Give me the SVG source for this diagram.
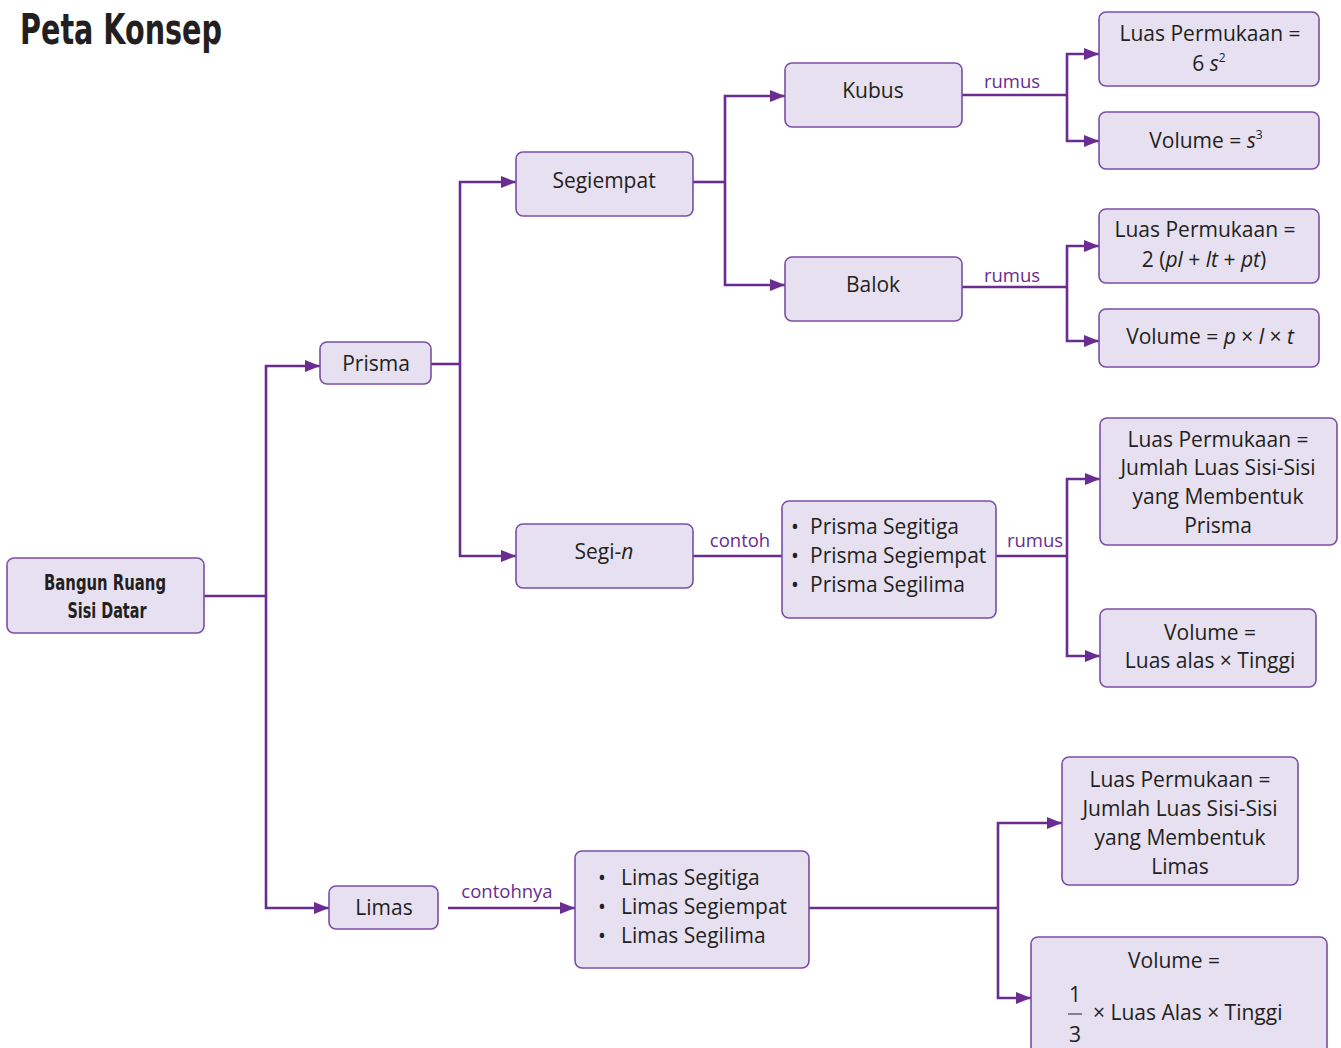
<svg xmlns="http://www.w3.org/2000/svg" width="1341" height="1048" viewBox="0 0 1341 1048">
<style>
.box{fill:#e6e0f0;stroke:#7b4ea6;stroke-width:1.6}
.t{font-family:"Open Sans","Noto Sans","Liberation Sans",sans-serif;font-size:21px;fill:#231f20;text-anchor:middle}
.tl{font-family:"Open Sans","Noto Sans","Liberation Sans",sans-serif;font-size:21px;fill:#231f20}
.lbl{font-family:"Open Sans","Noto Sans","Liberation Sans",sans-serif;font-size:18.5px;fill:#6a2c91;text-anchor:middle}
.b{font-family:"DejaVu Sans Condensed","Liberation Sans Narrow",sans-serif;font-weight:bold;fill:#231f20}
.c{fill:none;stroke:#6a2c91;stroke-width:2.6}
.i{font-style:italic}
</style>
<defs>
<marker id="ah" viewBox="0 0 15 12" refX="15" refY="6" markerWidth="15" markerHeight="12" markerUnits="userSpaceOnUse" orient="auto">
<path d="M0,0 L15,6 L0,12 Z" fill="#6a2c91"/>
</marker>
</defs>
<text x="20" y="44" class="b" font-size="42" textLength="202" lengthAdjust="spacingAndGlyphs">Peta Konsep</text>

<g id="connectors">
<path class="c" d="M204,596 H266"/>
<path class="c" d="M266,596 V366 H320" marker-end="url(#ah)"/>
<path class="c" d="M266,596 V908 H329" marker-end="url(#ah)"/>
<path class="c" d="M431,364 H460"/>
<path class="c" d="M460,364 V182 H516" marker-end="url(#ah)"/>
<path class="c" d="M460,364 V556 H516" marker-end="url(#ah)"/>
<path class="c" d="M693,182 H725"/>
<path class="c" d="M725,182 V96 H785" marker-end="url(#ah)"/>
<path class="c" d="M725,182 V285 H785" marker-end="url(#ah)"/>
<path class="c" d="M962,95 H1067"/>
<path class="c" d="M1067,95 V54 H1099" marker-end="url(#ah)"/>
<path class="c" d="M1067,95 V141 H1099" marker-end="url(#ah)"/>
<path class="c" d="M962,287 H1067"/>
<path class="c" d="M1067,287 V246 H1099" marker-end="url(#ah)"/>
<path class="c" d="M1067,287 V341 H1099" marker-end="url(#ah)"/>
<path class="c" d="M693,556 H782"/>
<path class="c" d="M996,556 H1067"/>
<path class="c" d="M1067,556 V479 H1100" marker-end="url(#ah)"/>
<path class="c" d="M1067,556 V656 H1100" marker-end="url(#ah)"/>
<path class="c" d="M448,908 H575" marker-end="url(#ah)"/>
<path class="c" d="M809,908 H998"/>
<path class="c" d="M998,908 V823 H1062" marker-end="url(#ah)"/>
<path class="c" d="M998,908 V998 H1031" marker-end="url(#ah)"/>
<text x="1012" y="88" class="lbl">rumus</text>
<text x="1012" y="282" class="lbl">rumus</text>
<text x="1035" y="547" class="lbl">rumus</text>
<text x="740" y="547" class="lbl">contoh</text>
<text x="507" y="898" class="lbl">contohnya</text>
</g>

<g id="root">
<rect class="box" x="7" y="558" width="197" height="75" rx="7"/>
<text x="105" y="590" class="b" font-size="21" text-anchor="middle" textLength="122" lengthAdjust="spacingAndGlyphs">Bangun Ruang</text>
<text x="107" y="618" class="b" font-size="21" text-anchor="middle" textLength="79" lengthAdjust="spacingAndGlyphs">Sisi Datar</text>
</g>

<g id="prisma">
<rect class="box" x="320" y="342" width="111" height="42" rx="7"/>
<text x="376" y="371" class="t">Prisma</text>
</g>

<g id="segiempat">
<rect class="box" x="516" y="152" width="177" height="64" rx="7"/>
<text x="604" y="188" class="t">Segiempat</text>
</g>

<g id="kubus">
<rect class="box" x="785" y="63" width="177" height="64" rx="7"/>
<text x="873" y="98" class="t">Kubus</text>
</g>

<g id="balok">
<rect class="box" x="785" y="257" width="177" height="64" rx="7"/>
<text x="873" y="292" class="t">Balok</text>
</g>

<g id="lp-kubus">
<rect class="box" x="1099" y="12" width="220" height="74" rx="7"/>
<text x="1210" y="41" class="t">Luas Permukaan =</text>
<text x="1209" y="71" class="t">6 <tspan class="i">s</tspan><tspan font-size="12" dy="-9">2</tspan></text>
</g>

<g id="v-kubus">
<rect class="box" x="1099" y="112" width="220" height="57" rx="7"/>
<text x="1206" y="148" class="t">Volume = <tspan class="i">s</tspan><tspan font-size="12" dy="-9">3</tspan></text>
</g>

<g id="lp-balok">
<rect class="box" x="1099" y="209" width="220" height="74" rx="7"/>
<text x="1205" y="237" class="t">Luas Permukaan =</text>
<text x="1204" y="267" class="t">2 (<tspan class="i">pl</tspan> + <tspan class="i">lt</tspan> + <tspan class="i">pt</tspan>)</text>
</g>

<g id="v-balok">
<rect class="box" x="1099" y="309" width="220" height="58" rx="7"/>
<text x="1210" y="344" class="t">Volume = <tspan class="i">p</tspan> × <tspan class="i">l</tspan> × <tspan class="i">t</tspan></text>
</g>

<g id="segin">
<rect class="box" x="516" y="524" width="177" height="64" rx="7"/>
<text x="604" y="559" class="t">Segi-<tspan class="i">n</tspan></text>
</g>

<g id="prisma-list">
<rect class="box" x="782" y="501" width="214" height="117" rx="7"/>
<text x="791" y="534" class="tl">•</text>
<text x="810" y="534" class="tl">Prisma Segitiga</text>
<text x="791" y="563" class="tl">•</text>
<text x="810" y="563" class="tl">Prisma Segiempat</text>
<text x="791" y="592" class="tl">•</text>
<text x="810" y="592" class="tl">Prisma Segilima</text>
</g>

<g id="lp-prisma">
<rect class="box" x="1100" y="418" width="237" height="127" rx="7"/>
<text x="1218" y="447" class="t">Luas Permukaan =</text>
<text x="1218" y="475" class="t">Jumlah Luas Sisi-Sisi</text>
<text x="1218" y="504" class="t">yang Membentuk</text>
<text x="1218" y="533" class="t">Prisma</text>
</g>

<g id="v-prisma">
<rect class="box" x="1100" y="609" width="216" height="78" rx="7"/>
<text x="1210" y="640" class="t">Volume =</text>
<text x="1210" y="668" class="t">Luas alas ×  Tinggi</text>
</g>

<g id="limas">
<rect class="box" x="329" y="886" width="109" height="43" rx="7"/>
<text x="384" y="915" class="t">Limas</text>
</g>

<g id="limas-list">
<rect class="box" x="575" y="851" width="234" height="117" rx="7"/>
<text x="598" y="885" class="tl">•</text>
<text x="621" y="885" class="tl">Limas Segitiga</text>
<text x="598" y="914" class="tl">•</text>
<text x="621" y="914" class="tl">Limas Segiempat</text>
<text x="598" y="943" class="tl">•</text>
<text x="621" y="943" class="tl">Limas Segilima</text>
</g>

<g id="lp-limas">
<rect class="box" x="1062" y="757" width="236" height="128" rx="7"/>
<text x="1180" y="787" class="t">Luas Permukaan =</text>
<text x="1180" y="816" class="t">Jumlah Luas Sisi-Sisi</text>
<text x="1180" y="845" class="t">yang Membentuk</text>
<text x="1180" y="874" class="t">Limas</text>
</g>

<g id="v-limas">
<rect class="box" x="1031" y="937" width="296" height="130" rx="7"/>
<text x="1174" y="968" class="t">Volume =</text>
<text x="1075" y="1002" class="t">1</text>
<line x1="1068" y1="1014" x2="1082" y2="1014" stroke="#231f20" stroke-width="1"/>
<text x="1075" y="1042" class="t">3</text>
<text x="1093" y="1020" class="tl">× Luas Alas × Tinggi</text>
</g>
</svg>
